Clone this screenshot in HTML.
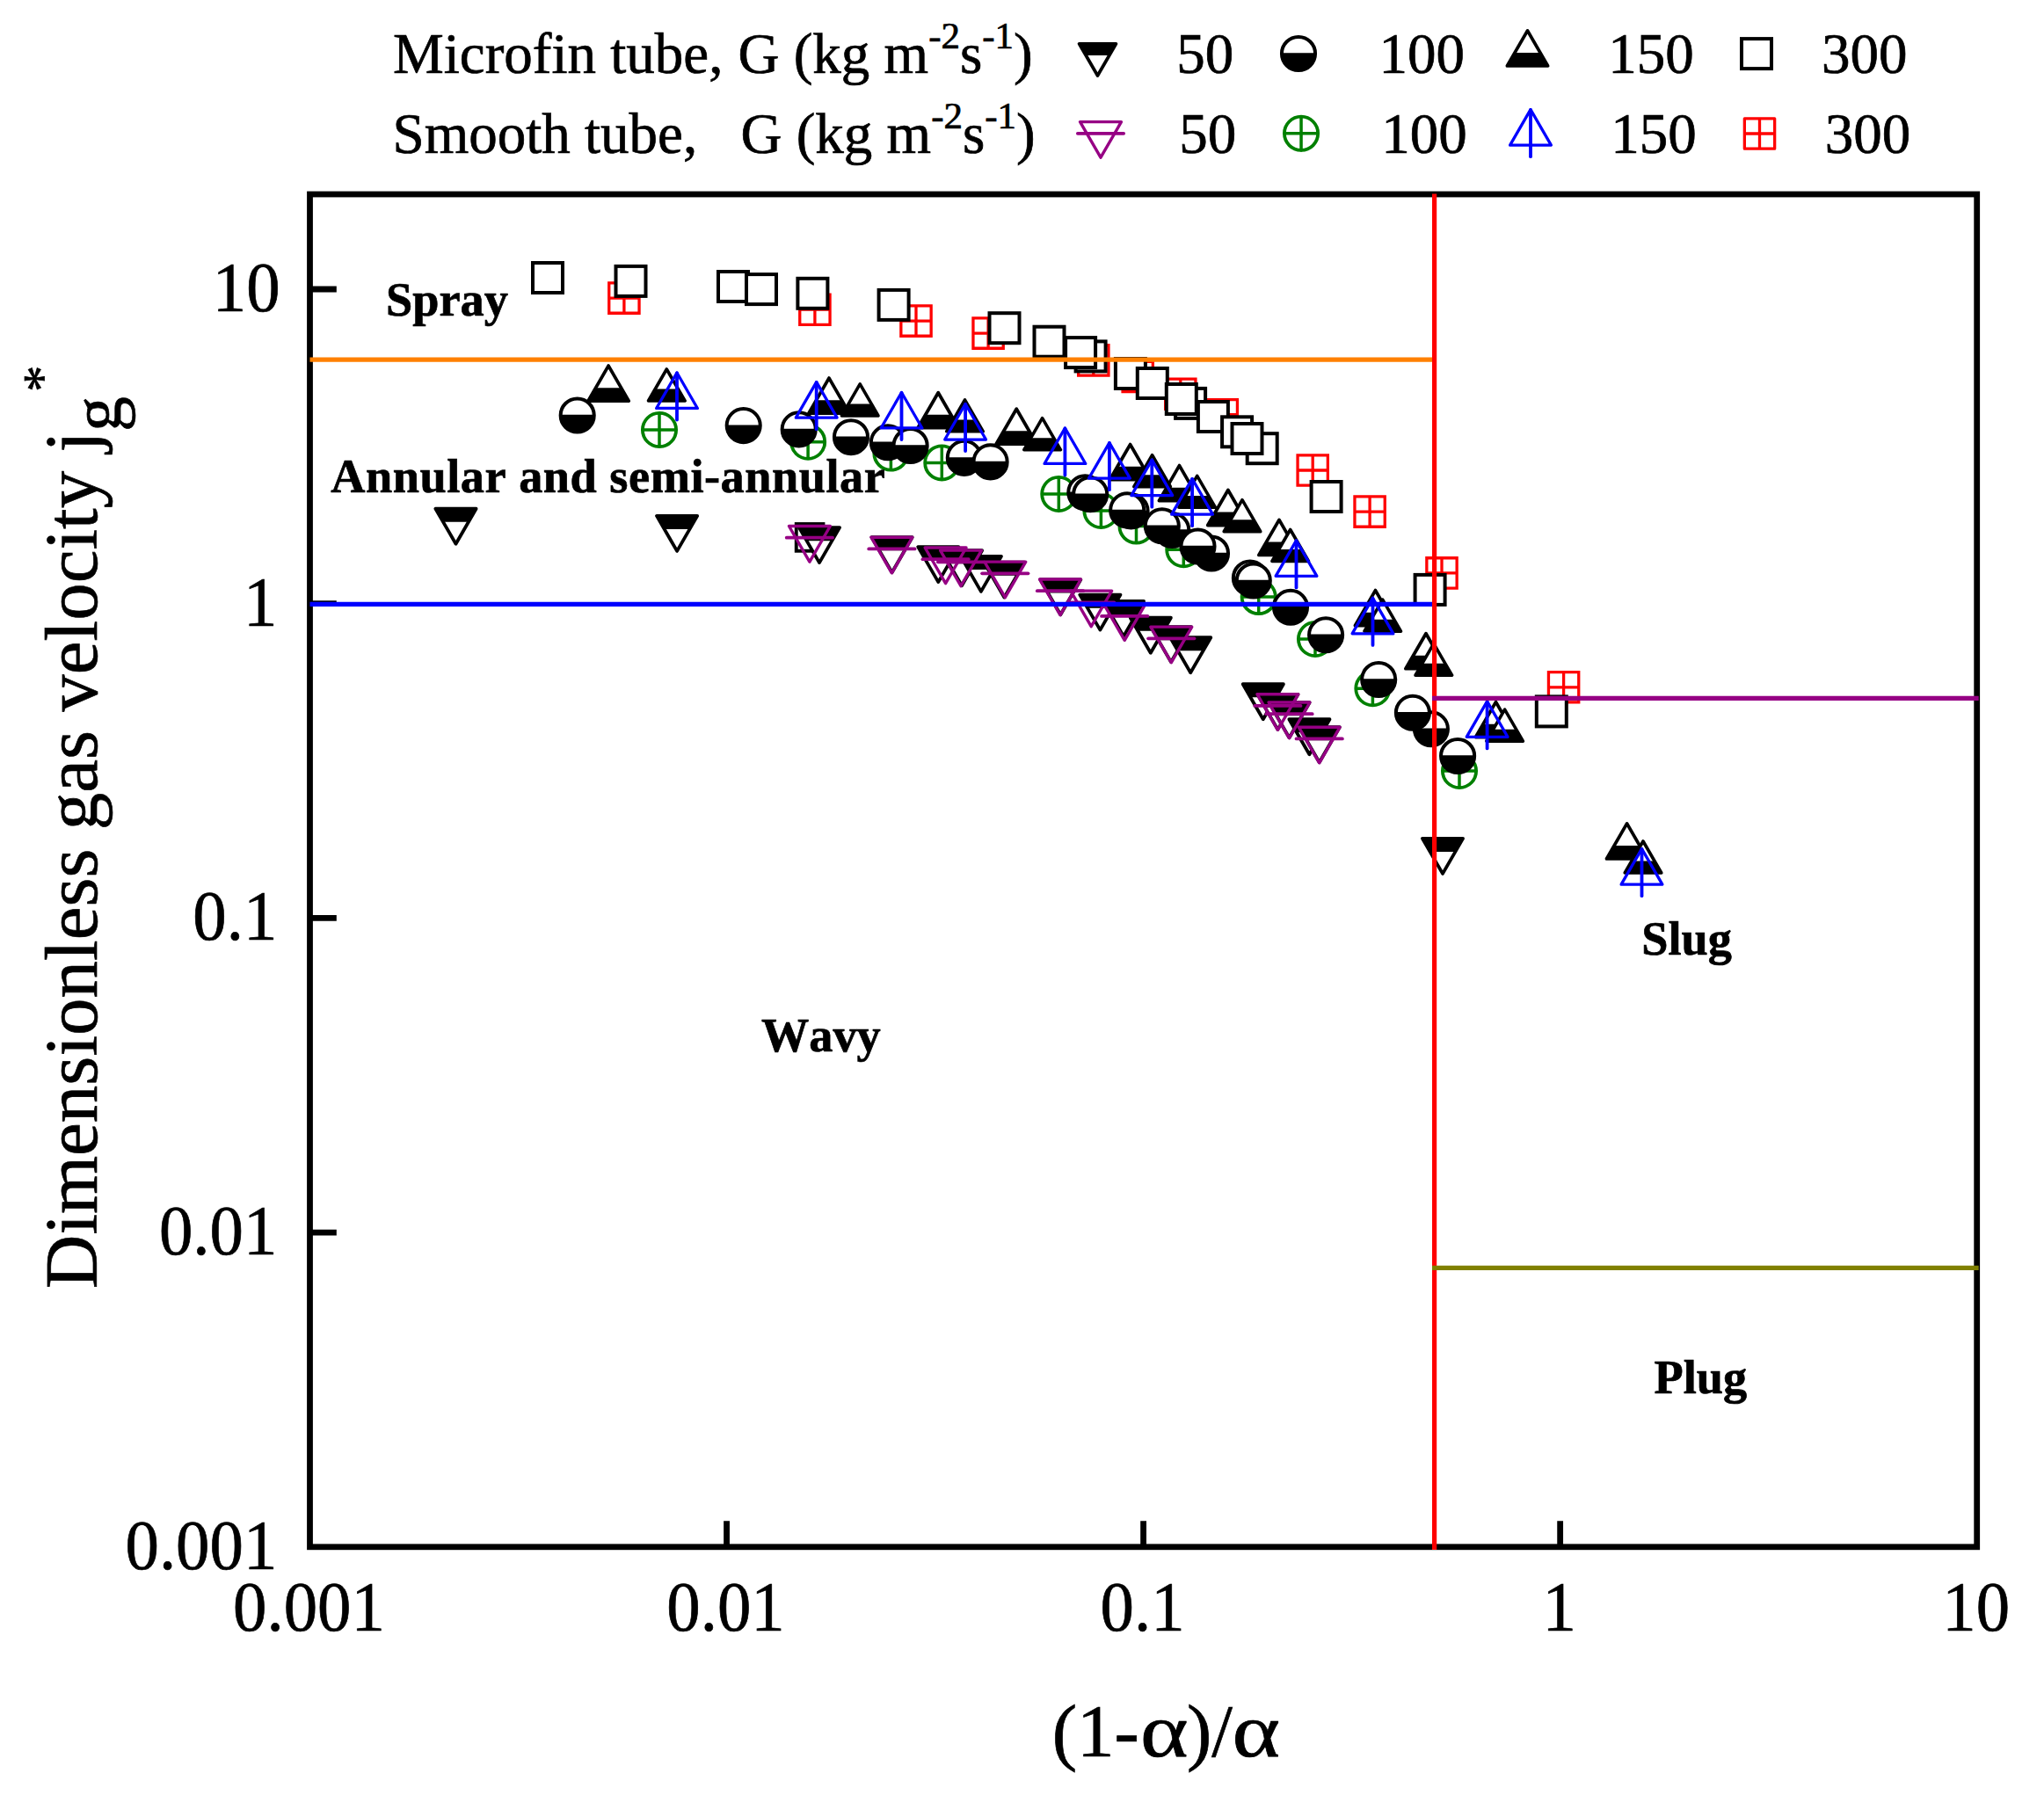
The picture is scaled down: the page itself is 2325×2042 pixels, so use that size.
<!DOCTYPE html>
<html lang="en"><head><meta charset="utf-8"><title>Flow regime map</title>
<style>html,body{margin:0;padding:0;background:#fff}body{width:2325px;height:2042px;overflow:hidden}svg{display:block}#up path,#blu path,#dn path,#pur path,#legend-sym path{stroke-linejoin:round;stroke-linecap:round}text{font-family:"Liberation Serif","Times New Roman",serif;fill:#000;stroke:#000;stroke-width:.7px;font-kerning:none}.b{font-weight:bold}</style>
</head><body>
<svg width="2325" height="2042" viewBox="0 0 2325 2042">
<rect width="2325" height="2042" fill="#fff"/>
<g id="red-sq">
<path d="M692.75 321.95h34.3v34.3h-34.3zM709.9 321.95v34.3M692.75 339.1h34.3" fill="none" stroke="#ff0000" stroke-width="3.3"/>
<path d="M909.75 335.05h34.3v34.3h-34.3zM926.9 335.05v34.3M909.75 352.2h34.3" fill="none" stroke="#ff0000" stroke-width="3.3"/>
<path d="M1024.85 347.95h34.3v34.3h-34.3zM1042 347.95v34.3M1024.85 365.1h34.3" fill="none" stroke="#ff0000" stroke-width="3.3"/>
<path d="M1106.95 361.95h34.3v34.3h-34.3zM1124.1 361.95v34.3M1106.95 379.1h34.3" fill="none" stroke="#ff0000" stroke-width="3.3"/>
<path d="M1226.65 392.75h34.3v34.3h-34.3zM1243.8 392.75v34.3M1226.65 409.9h34.3" fill="none" stroke="#ff0000" stroke-width="3.3"/>
<path d="M1277.05 411.35h34.3v34.3h-34.3zM1294.2 411.35v34.3M1277.05 428.5h34.3" fill="none" stroke="#ff0000" stroke-width="3.3"/>
<path d="M1325.65 431.15h34.3v34.3h-34.3zM1342.8 431.15v34.3M1325.65 448.3h34.3" fill="none" stroke="#ff0000" stroke-width="3.3"/>
<path d="M1373.15 454.55h34.3v34.3h-34.3zM1390.3 454.55v34.3M1373.15 471.7h34.3" fill="none" stroke="#ff0000" stroke-width="3.3"/>
<path d="M1476.05 517.85h34.3v34.3h-34.3zM1493.2 517.85v34.3M1476.05 535h34.3" fill="none" stroke="#ff0000" stroke-width="3.3"/>
<path d="M1540.95 564.95h34.3v34.3h-34.3zM1558.1 564.95v34.3M1540.95 582.1h34.3" fill="none" stroke="#ff0000" stroke-width="3.3"/>
<path d="M1622.85 634.75h34.3v34.3h-34.3zM1640 634.75v34.3M1622.85 651.9h34.3" fill="none" stroke="#ff0000" stroke-width="3.3"/>
<path d="M1761.45 764.65h34.3v34.3h-34.3zM1778.6 764.65v34.3M1761.45 781.8h34.3" fill="none" stroke="#ff0000" stroke-width="3.3"/>
</g>
<g id="blk-sq">
<rect x="606" y="299" width="34" height="34" fill="#fff" stroke="#000" stroke-width="4"/>
<rect x="700.5" y="302.9" width="34" height="34" fill="#fff" stroke="#000" stroke-width="4"/>
<rect x="817" y="309" width="34" height="34" fill="#fff" stroke="#000" stroke-width="4"/>
<rect x="849" y="312.1" width="34" height="34" fill="#fff" stroke="#000" stroke-width="4"/>
<rect x="907.4" y="316.8" width="34" height="34" fill="#fff" stroke="#000" stroke-width="4"/>
<rect x="999.6" y="329.9" width="34" height="34" fill="#fff" stroke="#000" stroke-width="4"/>
<rect x="1125.5" y="356.2" width="34" height="34" fill="#fff" stroke="#000" stroke-width="4"/>
<rect x="1176.5" y="371.7" width="34" height="34" fill="#fff" stroke="#000" stroke-width="4"/>
<rect x="1223.6" y="388.4" width="34" height="34" fill="#fff" stroke="#000" stroke-width="4"/>
<rect x="1212.1" y="384.1" width="34" height="34" fill="#fff" stroke="#000" stroke-width="4"/>
<rect x="1268.9" y="408" width="34" height="34" fill="#fff" stroke="#000" stroke-width="4"/>
<rect x="1293.8" y="419" width="34" height="34" fill="#fff" stroke="#000" stroke-width="4"/>
<rect x="1337.1" y="441.9" width="34" height="34" fill="#fff" stroke="#000" stroke-width="4"/>
<rect x="1326.8" y="437" width="34" height="34" fill="#fff" stroke="#000" stroke-width="4"/>
<rect x="1362.9" y="457" width="34" height="34" fill="#fff" stroke="#000" stroke-width="4"/>
<rect x="1390.1" y="474.3" width="34" height="34" fill="#fff" stroke="#000" stroke-width="4"/>
<rect x="1418.7" y="493.2" width="34" height="34" fill="#fff" stroke="#000" stroke-width="4"/>
<rect x="1401.5" y="482" width="34" height="34" fill="#fff" stroke="#000" stroke-width="4"/>
<rect x="1491.6" y="548" width="34" height="34" fill="#fff" stroke="#000" stroke-width="4"/>
<rect x="1609.6" y="653.9" width="34" height="34" fill="#fff" stroke="#000" stroke-width="4"/>
<rect x="1747.8" y="792.4" width="34" height="34" fill="#fff" stroke="#000" stroke-width="4"/>
</g>
<g id="grn">
<circle cx="750" cy="489" r="19.12" fill="none" stroke="#008000" stroke-width="3.8"/>
<path d="M730.88 489h38.25M750 469.88v38.25" fill="none" stroke="#008000" stroke-width="3.5"/>
<circle cx="919.1" cy="502.7" r="19.12" fill="none" stroke="#008000" stroke-width="3.8"/>
<path d="M899.98 502.7h38.25M919.1 483.57v38.25" fill="none" stroke="#008000" stroke-width="3.5"/>
<circle cx="1013.4" cy="515.6" r="19.12" fill="none" stroke="#008000" stroke-width="3.8"/>
<path d="M994.27 515.6h38.25M1013.4 496.48v38.25" fill="none" stroke="#008000" stroke-width="3.5"/>
<circle cx="1071.3" cy="526.4" r="19.12" fill="none" stroke="#008000" stroke-width="3.8"/>
<path d="M1052.17 526.4h38.25M1071.3 507.27v38.25" fill="none" stroke="#008000" stroke-width="3.5"/>
<circle cx="1204.3" cy="562" r="19.12" fill="none" stroke="#008000" stroke-width="3.8"/>
<path d="M1185.17 562h38.25M1204.3 542.88v38.25" fill="none" stroke="#008000" stroke-width="3.5"/>
<circle cx="1252.4" cy="581" r="19.12" fill="none" stroke="#008000" stroke-width="3.8"/>
<path d="M1233.28 581h38.25M1252.4 561.88v38.25" fill="none" stroke="#008000" stroke-width="3.5"/>
<circle cx="1292.5" cy="598.6" r="19.12" fill="none" stroke="#008000" stroke-width="3.8"/>
<path d="M1273.38 598.6h38.25M1292.5 579.48v38.25" fill="none" stroke="#008000" stroke-width="3.5"/>
<circle cx="1346.3" cy="625.2" r="19.12" fill="none" stroke="#008000" stroke-width="3.8"/>
<path d="M1327.17 625.2h38.25M1346.3 606.08v38.25" fill="none" stroke="#008000" stroke-width="3.5"/>
<circle cx="1431.7" cy="679.1" r="19.12" fill="none" stroke="#008000" stroke-width="3.8"/>
<path d="M1412.58 679.1h38.25M1431.7 659.98v38.25" fill="none" stroke="#008000" stroke-width="3.5"/>
<circle cx="1496" cy="727" r="19.12" fill="none" stroke="#008000" stroke-width="3.8"/>
<path d="M1476.88 727h38.25M1496 707.88v38.25" fill="none" stroke="#008000" stroke-width="3.5"/>
<circle cx="1561.4" cy="783.2" r="19.12" fill="none" stroke="#008000" stroke-width="3.8"/>
<path d="M1542.28 783.2h38.25M1561.4 764.08v38.25" fill="none" stroke="#008000" stroke-width="3.5"/>
<circle cx="1660" cy="877" r="19.12" fill="none" stroke="#008000" stroke-width="3.8"/>
<path d="M1640.88 877h38.25M1660 857.88v38.25" fill="none" stroke="#008000" stroke-width="3.5"/>
</g>
<g id="blk-c">
<circle cx="656.7" cy="472.5" r="19.05" fill="#fff"/>
<path d="M637.66 471.8A19.05 19.05 0 1 0 675.74 471.8z" fill="#000"/>
<circle cx="656.7" cy="472.5" r="19.05" fill="none" stroke="#000" stroke-width="4"/>
<circle cx="845.7" cy="484.1" r="19.05" fill="#fff"/>
<path d="M826.66 483.4A19.05 19.05 0 1 0 864.74 483.4z" fill="#000"/>
<circle cx="845.7" cy="484.1" r="19.05" fill="none" stroke="#000" stroke-width="4"/>
<circle cx="908.7" cy="488.4" r="19.05" fill="#fff"/>
<path d="M889.66 487.7A19.05 19.05 0 1 0 927.74 487.7z" fill="#000"/>
<circle cx="908.7" cy="488.4" r="19.05" fill="none" stroke="#000" stroke-width="4"/>
<circle cx="968" cy="497.2" r="19.05" fill="#fff"/>
<path d="M948.96 496.5A19.05 19.05 0 1 0 987.04 496.5z" fill="#000"/>
<circle cx="968" cy="497.2" r="19.05" fill="none" stroke="#000" stroke-width="4"/>
<circle cx="1009.9" cy="503.3" r="19.05" fill="#fff"/>
<path d="M990.86 502.6A19.05 19.05 0 1 0 1028.94 502.6z" fill="#000"/>
<circle cx="1009.9" cy="503.3" r="19.05" fill="none" stroke="#000" stroke-width="4"/>
<circle cx="1035.6" cy="507" r="19.05" fill="#fff"/>
<path d="M1016.56 506.3A19.05 19.05 0 1 0 1054.64 506.3z" fill="#000"/>
<circle cx="1035.6" cy="507" r="19.05" fill="none" stroke="#000" stroke-width="4"/>
<circle cx="1096.8" cy="520.9" r="19.05" fill="#fff"/>
<path d="M1077.76 520.2A19.05 19.05 0 1 0 1115.84 520.2z" fill="#000"/>
<circle cx="1096.8" cy="520.9" r="19.05" fill="none" stroke="#000" stroke-width="4"/>
<circle cx="1126.6" cy="525.4" r="19.05" fill="#fff"/>
<path d="M1107.56 524.7A19.05 19.05 0 1 0 1145.64 524.7z" fill="#000"/>
<circle cx="1126.6" cy="525.4" r="19.05" fill="none" stroke="#000" stroke-width="4"/>
<circle cx="1234.3" cy="560.3" r="19.05" fill="#fff"/>
<path d="M1215.26 559.6A19.05 19.05 0 1 0 1253.34 559.6z" fill="#000"/>
<circle cx="1234.3" cy="560.3" r="19.05" fill="none" stroke="#000" stroke-width="4"/>
<circle cx="1286.6" cy="581.4" r="19.05" fill="#fff"/>
<path d="M1267.56 580.7A19.05 19.05 0 1 0 1305.64 580.7z" fill="#000"/>
<circle cx="1286.6" cy="581.4" r="19.05" fill="none" stroke="#000" stroke-width="4"/>
<circle cx="1333.2" cy="603" r="19.05" fill="#fff"/>
<path d="M1314.16 602.3A19.05 19.05 0 1 0 1352.24 602.3z" fill="#000"/>
<circle cx="1333.2" cy="603" r="19.05" fill="none" stroke="#000" stroke-width="4"/>
<circle cx="1378" cy="629.5" r="19.05" fill="#fff"/>
<path d="M1358.96 628.8A19.05 19.05 0 1 0 1397.04 628.8z" fill="#000"/>
<circle cx="1378" cy="629.5" r="19.05" fill="none" stroke="#000" stroke-width="4"/>
<circle cx="1421.9" cy="657.5" r="19.05" fill="#fff"/>
<path d="M1402.86 656.8A19.05 19.05 0 1 0 1440.94 656.8z" fill="#000"/>
<circle cx="1421.9" cy="657.5" r="19.05" fill="none" stroke="#000" stroke-width="4"/>
<circle cx="1627.9" cy="829.3" r="19.05" fill="#fff"/>
<path d="M1608.86 828.6A19.05 19.05 0 1 0 1646.94 828.6z" fill="#000"/>
<circle cx="1627.9" cy="829.3" r="19.05" fill="none" stroke="#000" stroke-width="4"/>
<circle cx="1240.2" cy="562.2" r="19.05" fill="#fff"/>
<path d="M1221.16 561.5A19.05 19.05 0 1 0 1259.24 561.5z" fill="#000"/>
<circle cx="1240.2" cy="562.2" r="19.05" fill="none" stroke="#000" stroke-width="4"/>
<circle cx="1282.2" cy="580.4" r="19.05" fill="#fff"/>
<path d="M1263.16 579.7A19.05 19.05 0 1 0 1301.24 579.7z" fill="#000"/>
<circle cx="1282.2" cy="580.4" r="19.05" fill="none" stroke="#000" stroke-width="4"/>
<circle cx="1321.8" cy="598.3" r="19.05" fill="#fff"/>
<path d="M1302.76 597.6A19.05 19.05 0 1 0 1340.84 597.6z" fill="#000"/>
<circle cx="1321.8" cy="598.3" r="19.05" fill="none" stroke="#000" stroke-width="4"/>
<circle cx="1362.5" cy="621.5" r="19.05" fill="#fff"/>
<path d="M1343.46 620.8A19.05 19.05 0 1 0 1381.54 620.8z" fill="#000"/>
<circle cx="1362.5" cy="621.5" r="19.05" fill="none" stroke="#000" stroke-width="4"/>
<circle cx="1425.8" cy="660.5" r="19.05" fill="#fff"/>
<path d="M1406.76 659.8A19.05 19.05 0 1 0 1444.84 659.8z" fill="#000"/>
<circle cx="1425.8" cy="660.5" r="19.05" fill="none" stroke="#000" stroke-width="4"/>
<circle cx="1468" cy="690.8" r="19.05" fill="#fff"/>
<path d="M1448.96 690.1A19.05 19.05 0 1 0 1487.04 690.1z" fill="#000"/>
<circle cx="1468" cy="690.8" r="19.05" fill="none" stroke="#000" stroke-width="4"/>
<circle cx="1508.1" cy="722.3" r="19.05" fill="#fff"/>
<path d="M1489.06 721.6A19.05 19.05 0 1 0 1527.14 721.6z" fill="#000"/>
<circle cx="1508.1" cy="722.3" r="19.05" fill="none" stroke="#000" stroke-width="4"/>
<circle cx="1568.2" cy="773" r="19.05" fill="#fff"/>
<path d="M1549.16 772.3A19.05 19.05 0 1 0 1587.24 772.3z" fill="#000"/>
<circle cx="1568.2" cy="773" r="19.05" fill="none" stroke="#000" stroke-width="4"/>
<circle cx="1606.9" cy="810.8" r="19.05" fill="#fff"/>
<path d="M1587.86 810.1A19.05 19.05 0 1 0 1625.94 810.1z" fill="#000"/>
<circle cx="1606.9" cy="810.8" r="19.05" fill="none" stroke="#000" stroke-width="4"/>
<circle cx="1658.1" cy="860" r="19.05" fill="#fff"/>
<path d="M1639.06 859.3A19.05 19.05 0 1 0 1677.14 859.3z" fill="#000"/>
<circle cx="1658.1" cy="860" r="19.05" fill="none" stroke="#000" stroke-width="4"/>
</g>
<g id="up">
<path d="M692.1 416.1L715.19 456.1L669.01 456.1z" fill="#fff" stroke="#000" stroke-width="3.8"/>
<path d="M677.61 441.2L706.59 441.2L715.19 456.1L669.01 456.1z" fill="#000"/>
<path d="M943 430.1L966.09 470.1L919.91 470.1z" fill="#fff" stroke="#000" stroke-width="3.8"/>
<path d="M928.51 455.2L957.49 455.2L966.09 470.1L919.91 470.1z" fill="#000"/>
<path d="M1067.2 446.7L1090.29 486.7L1044.11 486.7z" fill="#fff" stroke="#000" stroke-width="3.8"/>
<path d="M1052.71 471.8L1081.69 471.8L1090.29 486.7L1044.11 486.7z" fill="#000"/>
<path d="M1156.2 465.2L1179.29 505.2L1133.11 505.2z" fill="#fff" stroke="#000" stroke-width="3.8"/>
<path d="M1141.71 490.3L1170.69 490.3L1179.29 505.2L1133.11 505.2z" fill="#000"/>
<path d="M1285.6 505.6L1308.69 545.6L1262.51 545.6z" fill="#fff" stroke="#000" stroke-width="3.8"/>
<path d="M1271.11 530.7L1300.09 530.7L1308.69 545.6L1262.51 545.6z" fill="#000"/>
<path d="M1341.5 529.6L1364.59 569.6L1318.41 569.6z" fill="#fff" stroke="#000" stroke-width="3.8"/>
<path d="M1327.01 554.7L1355.99 554.7L1364.59 569.6L1318.41 569.6z" fill="#000"/>
<path d="M1396.9 557.5L1419.99 597.5L1373.81 597.5z" fill="#fff" stroke="#000" stroke-width="3.8"/>
<path d="M1382.41 582.6L1411.39 582.6L1419.99 597.5L1373.81 597.5z" fill="#000"/>
<path d="M1455 591.4L1478.09 631.4L1431.91 631.4z" fill="#fff" stroke="#000" stroke-width="3.8"/>
<path d="M1440.51 616.5L1469.49 616.5L1478.09 631.4L1431.91 631.4z" fill="#000"/>
<path d="M1564.5 671.6L1587.59 711.6L1541.41 711.6z" fill="#fff" stroke="#000" stroke-width="3.8"/>
<path d="M1550.01 696.7L1578.99 696.7L1587.59 711.6L1541.41 711.6z" fill="#000"/>
<path d="M1622 720.7L1645.09 760.7L1598.91 760.7z" fill="#fff" stroke="#000" stroke-width="3.8"/>
<path d="M1607.51 745.8L1636.49 745.8L1645.09 760.7L1598.91 760.7z" fill="#000"/>
<path d="M1701.5 798.6L1724.59 838.6L1678.41 838.6z" fill="#fff" stroke="#000" stroke-width="3.8"/>
<path d="M1687.01 823.7L1715.99 823.7L1724.59 838.6L1678.41 838.6z" fill="#000"/>
<path d="M1850.6 936.9L1873.69 976.9L1827.51 976.9z" fill="#fff" stroke="#000" stroke-width="3.8"/>
<path d="M1836.11 962L1865.09 962L1873.69 976.9L1827.51 976.9z" fill="#000"/>
<path d="M758.3 420L779.09 456L737.51 456z" fill="#fff" stroke="#000" stroke-width="3.6"/>
<path d="M745.25 442.6L771.35 442.6L779.09 456L737.51 456z" fill="#000"/>
<path d="M978.2 436.9L998.99 472.9L957.41 472.9z" fill="#fff" stroke="#000" stroke-width="3.6"/>
<path d="M965.15 459.5L991.25 459.5L998.99 472.9L957.41 472.9z" fill="#000"/>
<path d="M1097.5 454.8L1118.29 490.8L1076.71 490.8z" fill="#fff" stroke="#000" stroke-width="3.6"/>
<path d="M1084.45 477.4L1110.55 477.4L1118.29 490.8L1076.71 490.8z" fill="#000"/>
<path d="M1185.6 475.7L1206.39 511.7L1164.81 511.7z" fill="#fff" stroke="#000" stroke-width="3.6"/>
<path d="M1172.55 498.3L1198.65 498.3L1206.39 511.7L1164.81 511.7z" fill="#000"/>
<path d="M1310.6 517.7L1331.39 553.7L1289.81 553.7z" fill="#fff" stroke="#000" stroke-width="3.6"/>
<path d="M1297.55 540.3L1323.65 540.3L1331.39 553.7L1289.81 553.7z" fill="#000"/>
<path d="M1361.7 541.3L1382.49 577.3L1340.91 577.3z" fill="#fff" stroke="#000" stroke-width="3.6"/>
<path d="M1348.65 563.9L1374.75 563.9L1382.49 577.3L1340.91 577.3z" fill="#000"/>
<path d="M1413 568.7L1433.79 604.7L1392.21 604.7z" fill="#fff" stroke="#000" stroke-width="3.6"/>
<path d="M1399.95 591.3L1426.05 591.3L1433.79 604.7L1392.21 604.7z" fill="#000"/>
<path d="M1467.7 602.5L1488.49 638.5L1446.91 638.5z" fill="#fff" stroke="#000" stroke-width="3.6"/>
<path d="M1454.65 625.1L1480.75 625.1L1488.49 638.5L1446.91 638.5z" fill="#000"/>
<path d="M1572.7 682.1L1593.49 718.1L1551.91 718.1z" fill="#fff" stroke="#000" stroke-width="3.6"/>
<path d="M1559.65 704.7L1585.75 704.7L1593.49 718.1L1551.91 718.1z" fill="#000"/>
<path d="M1630.8 732.2L1651.59 768.2L1610.01 768.2z" fill="#fff" stroke="#000" stroke-width="3.6"/>
<path d="M1617.75 754.8L1643.85 754.8L1651.59 768.2L1610.01 768.2z" fill="#000"/>
<path d="M1711.6 807.1L1732.39 843.1L1690.81 843.1z" fill="#fff" stroke="#000" stroke-width="3.6"/>
<path d="M1698.55 829.7L1724.65 829.7L1732.39 843.1L1690.81 843.1z" fill="#000"/>
<path d="M1869 957L1889.79 993L1848.21 993z" fill="#fff" stroke="#000" stroke-width="3.6"/>
<path d="M1855.95 979.6L1882.05 979.6L1889.79 993L1848.21 993z" fill="#000"/>
</g>
<g id="blu">
<path d="M770 423.95L793.38 464.45L746.62 464.45z" fill="none" stroke="#0000ff" stroke-width="3.3"/>
<path d="M770 424.3V477.5" fill="none" stroke="#0000ff" stroke-width="3.8"/>
<path d="M928.7 434.65L952.08 475.15L905.32 475.15z" fill="none" stroke="#0000ff" stroke-width="3.3"/>
<path d="M928.7 435V488.2" fill="none" stroke="#0000ff" stroke-width="3.8"/>
<path d="M1025.5 446.45L1048.88 486.95L1002.12 486.95z" fill="none" stroke="#0000ff" stroke-width="3.3"/>
<path d="M1025.5 446.8V500" fill="none" stroke="#0000ff" stroke-width="3.8"/>
<path d="M1098.1 459.55L1121.48 500.05L1074.72 500.05z" fill="none" stroke="#0000ff" stroke-width="3.3"/>
<path d="M1098.1 459.9V513.1" fill="none" stroke="#0000ff" stroke-width="3.8"/>
<path d="M1211.4 486.95L1234.78 527.45L1188.02 527.45z" fill="none" stroke="#0000ff" stroke-width="3.3"/>
<path d="M1211.4 487.3V540.5" fill="none" stroke="#0000ff" stroke-width="3.8"/>
<path d="M1261.9 503.65L1285.28 544.15L1238.52 544.15z" fill="none" stroke="#0000ff" stroke-width="3.3"/>
<path d="M1261.9 504V557.2" fill="none" stroke="#0000ff" stroke-width="3.8"/>
<path d="M1310.3 523.15L1333.68 563.65L1286.92 563.65z" fill="none" stroke="#0000ff" stroke-width="3.3"/>
<path d="M1310.3 523.5V576.7" fill="none" stroke="#0000ff" stroke-width="3.8"/>
<path d="M1356.1 544.65L1379.48 585.15L1332.72 585.15z" fill="none" stroke="#0000ff" stroke-width="3.3"/>
<path d="M1356.1 545V598.2" fill="none" stroke="#0000ff" stroke-width="3.8"/>
<path d="M1474.5 614.85L1497.88 655.35L1451.12 655.35z" fill="none" stroke="#0000ff" stroke-width="3.3"/>
<path d="M1474.5 615.2V668.4" fill="none" stroke="#0000ff" stroke-width="3.8"/>
<path d="M1561.5 680.35L1584.88 720.85L1538.12 720.85z" fill="none" stroke="#0000ff" stroke-width="3.3"/>
<path d="M1561.5 680.7V733.9" fill="none" stroke="#0000ff" stroke-width="3.8"/>
<path d="M1691.6 797.85L1714.98 838.35L1668.22 838.35z" fill="none" stroke="#0000ff" stroke-width="3.3"/>
<path d="M1691.6 798.2V851.4" fill="none" stroke="#0000ff" stroke-width="3.8"/>
<path d="M1867.5 965.65L1890.88 1006.15L1844.12 1006.15z" fill="none" stroke="#0000ff" stroke-width="3.3"/>
<path d="M1867.5 966V1019.2" fill="none" stroke="#0000ff" stroke-width="3.8"/>
</g>
<g id="dn">
<rect x="905.75" y="596.05" width="30.7" height="30.7" fill="none" stroke="#000" stroke-width="3.9"/>
<path d="M495.41 578.7L541.59 578.7L518.5 618.7z" fill="#fff" stroke="#000" stroke-width="3.8"/>
<path d="M495.41 578.7L541.59 578.7L532.88 593.8L504.12 593.8z" fill="#000"/>
<path d="M747.01 586.9L793.19 586.9L770.1 626.9z" fill="#fff" stroke="#000" stroke-width="3.8"/>
<path d="M747.01 586.9L793.19 586.9L784.48 602L755.72 602z" fill="#000"/>
<path d="M908.91 600.1L955.09 600.1L932 640.1z" fill="#fff" stroke="#000" stroke-width="3.8"/>
<path d="M908.91 600.1L955.09 600.1L946.38 615.2L917.62 615.2z" fill="#000"/>
<path d="M991.51 611.2L1037.69 611.2L1014.6 651.2z" fill="#fff" stroke="#000" stroke-width="3.8"/>
<path d="M991.51 611.2L1037.69 611.2L1028.98 626.3L1000.22 626.3z" fill="#000"/>
<path d="M1044.21 622.1L1090.39 622.1L1067.3 662.1z" fill="#fff" stroke="#000" stroke-width="3.8"/>
<path d="M1044.21 622.1L1090.39 622.1L1081.68 637.2L1052.92 637.2z" fill="#000"/>
<path d="M1070.91 626.2L1117.09 626.2L1094 666.2z" fill="#fff" stroke="#000" stroke-width="3.8"/>
<path d="M1070.91 626.2L1117.09 626.2L1108.38 641.3L1079.62 641.3z" fill="#000"/>
<path d="M1092.81 632.9L1138.99 632.9L1115.9 672.9z" fill="#fff" stroke="#000" stroke-width="3.8"/>
<path d="M1092.81 632.9L1138.99 632.9L1130.28 648L1101.52 648z" fill="#000"/>
<path d="M1119.21 639.6L1165.39 639.6L1142.3 679.6z" fill="#fff" stroke="#000" stroke-width="3.8"/>
<path d="M1119.21 639.6L1165.39 639.6L1156.68 654.7L1127.92 654.7z" fill="#000"/>
<path d="M1183.21 659.3L1229.39 659.3L1206.3 699.3z" fill="#fff" stroke="#000" stroke-width="3.8"/>
<path d="M1183.21 659.3L1229.39 659.3L1220.68 674.4L1191.92 674.4z" fill="#000"/>
<path d="M1228.31 676.6L1274.49 676.6L1251.4 716.6z" fill="#fff" stroke="#000" stroke-width="3.8"/>
<path d="M1228.31 676.6L1274.49 676.6L1265.78 691.7L1237.02 691.7z" fill="#000"/>
<path d="M1254.91 683.9L1301.09 683.9L1278 723.9z" fill="#fff" stroke="#000" stroke-width="3.8"/>
<path d="M1254.91 683.9L1301.09 683.9L1292.38 699L1263.62 699z" fill="#000"/>
<path d="M1285.71 702.7L1331.89 702.7L1308.8 742.7z" fill="#fff" stroke="#000" stroke-width="3.8"/>
<path d="M1285.71 702.7L1331.89 702.7L1323.18 717.8L1294.42 717.8z" fill="#000"/>
<path d="M1308.91 713.1L1355.09 713.1L1332 753.1z" fill="#fff" stroke="#000" stroke-width="3.8"/>
<path d="M1308.91 713.1L1355.09 713.1L1346.38 728.2L1317.62 728.2z" fill="#000"/>
<path d="M1331.11 725.2L1377.29 725.2L1354.2 765.2z" fill="#fff" stroke="#000" stroke-width="3.8"/>
<path d="M1331.11 725.2L1377.29 725.2L1368.58 740.3L1339.82 740.3z" fill="#000"/>
<path d="M1413.71 778.2L1459.89 778.2L1436.8 818.2z" fill="#fff" stroke="#000" stroke-width="3.8"/>
<path d="M1413.71 778.2L1459.89 778.2L1451.18 793.3L1422.42 793.3z" fill="#000"/>
<path d="M1430.31 789.9L1476.49 789.9L1453.4 829.9z" fill="#fff" stroke="#000" stroke-width="3.8"/>
<path d="M1430.31 789.9L1476.49 789.9L1467.78 805L1439.02 805z" fill="#000"/>
<path d="M1443.41 799.2L1489.59 799.2L1466.5 839.2z" fill="#fff" stroke="#000" stroke-width="3.8"/>
<path d="M1443.41 799.2L1489.59 799.2L1480.88 814.3L1452.12 814.3z" fill="#000"/>
<path d="M1466.31 818.2L1512.49 818.2L1489.4 858.2z" fill="#fff" stroke="#000" stroke-width="3.8"/>
<path d="M1466.31 818.2L1512.49 818.2L1503.78 833.3L1475.02 833.3z" fill="#000"/>
<path d="M1477.61 827.2L1523.79 827.2L1500.7 867.2z" fill="#fff" stroke="#000" stroke-width="3.8"/>
<path d="M1477.61 827.2L1523.79 827.2L1515.08 842.3L1486.32 842.3z" fill="#000"/>
<path d="M1617.91 953.9L1664.09 953.9L1641 993.9z" fill="#fff" stroke="#000" stroke-width="3.8"/>
<path d="M1617.91 953.9L1664.09 953.9L1655.38 969L1626.62 969z" fill="#000"/>
</g>
<g id="pur">
<path d="M897.46 598.5L944.34 598.5L920.9 639.1z" fill="none" stroke="#960084" stroke-width="3.4"/>
<path d="M894.7 611.7H947.1" fill="none" stroke="#960084" stroke-width="3.7"/>
<path d="M990.96 611.2L1037.84 611.2L1014.4 651.8z" fill="none" stroke="#960084" stroke-width="3.4"/>
<path d="M988.2 624.4H1040.6" fill="none" stroke="#960084" stroke-width="3.7"/>
<path d="M1052.16 623L1099.04 623L1075.6 663.6z" fill="none" stroke="#960084" stroke-width="3.4"/>
<path d="M1049.4 636.2H1101.8" fill="none" stroke="#960084" stroke-width="3.7"/>
<path d="M1069.56 626.1L1116.44 626.1L1093 666.7z" fill="none" stroke="#960084" stroke-width="3.4"/>
<path d="M1066.8 639.3H1119.2" fill="none" stroke="#960084" stroke-width="3.7"/>
<path d="M1119.86 639.1L1166.74 639.1L1143.3 679.7z" fill="none" stroke="#960084" stroke-width="3.4"/>
<path d="M1117.1 652.3H1169.5" fill="none" stroke="#960084" stroke-width="3.7"/>
<path d="M1182.56 659L1229.44 659L1206 699.6z" fill="none" stroke="#960084" stroke-width="3.4"/>
<path d="M1179.8 672.2H1232.2" fill="none" stroke="#960084" stroke-width="3.7"/>
<path d="M1217.76 672.1L1264.64 672.1L1241.2 712.7z" fill="none" stroke="#960084" stroke-width="3.4"/>
<path d="M1215 685.3H1267.4" fill="none" stroke="#960084" stroke-width="3.7"/>
<path d="M1255.76 687.7L1302.64 687.7L1279.2 728.3z" fill="none" stroke="#960084" stroke-width="3.4"/>
<path d="M1253 700.9H1305.4" fill="none" stroke="#960084" stroke-width="3.7"/>
<path d="M1308.86 713.1L1355.74 713.1L1332.3 753.7z" fill="none" stroke="#960084" stroke-width="3.4"/>
<path d="M1306.1 726.3H1358.5" fill="none" stroke="#960084" stroke-width="3.7"/>
<path d="M1429.96 789.7L1476.84 789.7L1453.4 830.3z" fill="none" stroke="#960084" stroke-width="3.4"/>
<path d="M1427.2 802.9H1479.6" fill="none" stroke="#960084" stroke-width="3.7"/>
<path d="M1443.06 799L1489.94 799L1466.5 839.6z" fill="none" stroke="#960084" stroke-width="3.4"/>
<path d="M1440.3 812.2H1492.7" fill="none" stroke="#960084" stroke-width="3.7"/>
<path d="M1477.26 827.2L1524.14 827.2L1500.7 867.8z" fill="none" stroke="#960084" stroke-width="3.4"/>
<path d="M1474.5 840.4H1526.9" fill="none" stroke="#960084" stroke-width="3.7"/>
</g>
<g id="axes" fill="none" stroke="#000">
<rect x="352.5" y="221" width="1896.2" height="1538.8" stroke-width="6.8"/>
<path d="M352.5 329h30.3M352.5 686.7h30.3M352.5 1044.4h30.3M352.5 1402.1h30.3M826.55 1759.8v-29.6M1300.6 1759.8v-29.6M1774.65 1759.8v-29.6" stroke-width="6.8"/>
</g>
<g id="lines" fill="none">
<path d="M352.5 409.2H1629.5" stroke="#ff8000" stroke-width="5.2"/>
<path d="M352.5 687.4H1629.5" stroke="#0000ff" stroke-width="5.3"/>
<path d="M1631.6 220.5V1763" stroke="#ff0000" stroke-width="5.2"/>
<path d="M1629 794.3H2250.7" stroke="#960084" stroke-width="5.3"/>
<path d="M1629 1442.4H2250.7" stroke="#808000" stroke-width="5.3"/>
</g>
<g id="ticklabels" font-size="80">
<text transform="translate(318.6 353.9) scale(0.96 1)" text-anchor="end">10</text>
<text transform="translate(315.3 711.6) scale(0.96 1)" text-anchor="end">1</text>
<text transform="translate(315.3 1069.3) scale(0.96 1)" text-anchor="end">0.1</text>
<text transform="translate(315.3 1427) scale(0.96 1)" text-anchor="end">0.01</text>
<text transform="translate(315.3 1784.7) scale(0.96 1)" text-anchor="end">0.001</text>
<text transform="translate(351.5 1855.3) scale(0.96 1)" text-anchor="middle">0.001</text>
<text transform="translate(825.55 1855.3) scale(0.96 1)" text-anchor="middle">0.01</text>
<text transform="translate(1299.6 1855.3) scale(0.96 1)" text-anchor="middle">0.1</text>
<text transform="translate(1773.65 1855.3) scale(0.96 1)" text-anchor="middle">1</text>
<text transform="translate(2247.7 1855.3) scale(0.96 1)" text-anchor="middle">10</text>
</g>
<g id="xtitle" font-size="85">
<text x="1196.8" y="1997.7">(1-</text>
<text transform="translate(1296.9 1997.7) scale(1.225 1.02)">α</text>
<text x="1350" y="1997.7">)/</text>
<text transform="translate(1401.6 1997.7) scale(1.225 1.02)">α</text>
</g>
<text id="ytitle" transform="translate(110.1 1466) rotate(-90)" font-size="85">Dimensionless gas velocity j<tspan dy="26.7" font-size="80">g</tspan><tspan dx="5" dy="-68.5" font-size="61">*</tspan></text>
<g id="regions" class="b" font-size="54.3" style="stroke-width:.4px">
<text x="439" y="359">Spray</text>
<text x="376.3" y="559.8" textLength="630.5" lengthAdjust="spacing">Annular and semi-annular</text>
<text x="866" y="1196">Wavy</text>
<text x="1867.3" y="1086.3">Slug</text>
<text x="1881.5" y="1585">Plug</text>
</g>
<g id="legend" font-size="65">
<text x="447" y="83.2">Microfin tube,</text>
<text x="839.5" y="83.2">G (kg m<tspan dy="-28" font-size="43">-2</tspan><tspan dy="28">s</tspan><tspan dy="-28" font-size="43">-1</tspan><tspan dy="28">)</tspan></text>
<text x="446.5" y="174.4">Smooth tube,</text>
<text x="842.5" y="174.4">G (kg m<tspan dy="-28" font-size="43">-2</tspan><tspan dy="28">s</tspan><tspan dy="-28" font-size="43">-1</tspan><tspan dy="28">)</tspan></text>
<text x="1338.3" y="83.2">50</text>
<text x="1568.5" y="83.2">100</text>
<text x="1829.3" y="83.2">150</text>
<text x="2072" y="83.2">300</text>
<text x="1341.3" y="174.4">50</text>
<text x="1571.3" y="174.4">100</text>
<text x="1832.3" y="174.4">150</text>
<text x="2075.8" y="174.4">300</text>
</g>
<g id="legend-sym">
<path d="M1227.54 49.75L1269.46 49.75L1248.5 86.05z" fill="#fff" stroke="#000" stroke-width="3.7"/>
<path d="M1227.54 49.75L1269.46 49.75L1261.87 62.9L1235.13 62.9z" fill="#000"/>
<circle cx="1477" cy="61" r="19.05" fill="#fff"/>
<path d="M1457.96 60.3A19.05 19.05 0 1 0 1496.04 60.3z" fill="#000"/>
<circle cx="1477" cy="61" r="19.05" fill="none" stroke="#000" stroke-width="4"/>
<path d="M1737.5 34.9L1760.59 74.9L1714.41 74.9z" fill="#fff" stroke="#000" stroke-width="3.8"/>
<path d="M1723.01 60L1751.99 60L1760.59 74.9L1714.41 74.9z" fill="#000"/>
<rect x="1981" y="44.1" width="34" height="34" fill="#fff" stroke="#000" stroke-width="4"/>
<path d="M1228.56 138.6L1275.44 138.6L1252 179.2z" fill="none" stroke="#960084" stroke-width="3.4"/>
<path d="M1225.8 151.8H1278.2" fill="none" stroke="#960084" stroke-width="3.7"/>
<circle cx="1480.05" cy="151.8" r="19.12" fill="none" stroke="#008000" stroke-width="3.8"/>
<path d="M1460.92 151.8h38.25M1480.05 132.68v38.25" fill="none" stroke="#008000" stroke-width="3.5"/>
<path d="M1741 124.65L1764.38 165.15L1717.62 165.15z" fill="none" stroke="#0000ff" stroke-width="3.3"/>
<path d="M1741 125V178.2" fill="none" stroke="#0000ff" stroke-width="3.8"/>
<path d="M1984.35 134.85h34.3v34.3h-34.3zM2001.5 134.85v34.3M1984.35 152h34.3" fill="none" stroke="#ff0000" stroke-width="3.3"/>
</g>
</svg></body></html>
